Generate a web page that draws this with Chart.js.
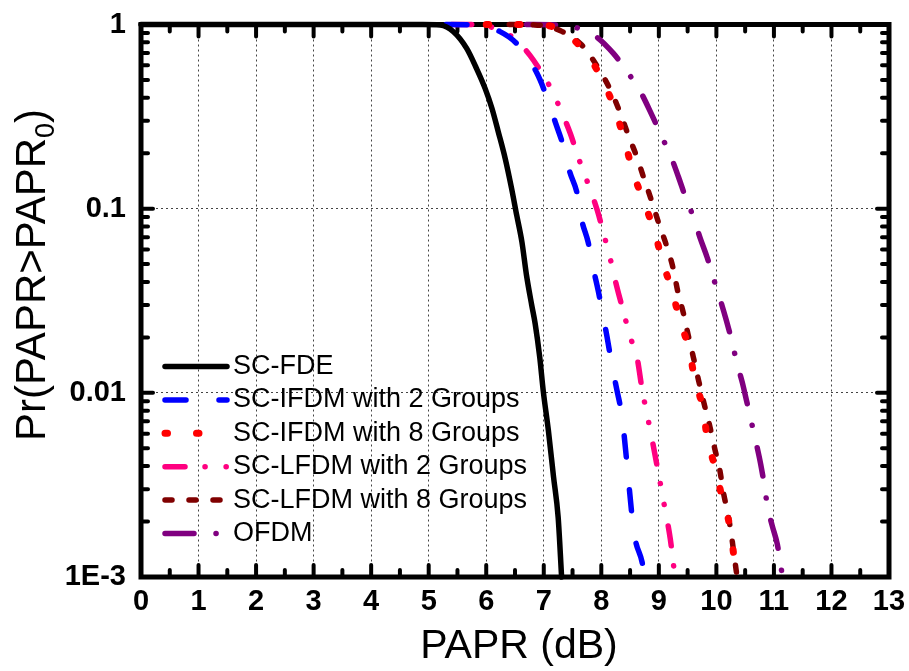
<!DOCTYPE html>
<html>
<head>
<meta charset="utf-8">
<script src="https://cdn.jsdelivr.net/npm/chart.js@4.4.1/dist/chart.umd.min.js"></script>
<style>
  html, body { margin: 0; padding: 0; background: #fff; }
  canvas { display: block; }
</style>
</head>
<body>
<canvas id="paprChart" width="909" height="671"></canvas>
<script>
// tick labels
const xTickLabels = ['0', '1', '2', '3', '4', '5', '6', '7', '8', '9', '10', '11', '12', '13'];
const yTickValues = [0.001, 0.01, 0.1, 1];
const yTickLabels = ['1E-3', '0.01', '0.1', '1'];

const seriesNames = [
  'SC-FDE',
  'SC-IFDM with 2 Groups',
  'SC-IFDM with 8 Groups',
  'SC-LFDM with 2 Groups',
  'SC-LFDM with 8 Groups',
  'OFDM'
];

// PAPR0 (dB) and Pr(PAPR>PAPR0)
const scfdeX = [0, 4.9, 5.2, 5.43, 5.66, 5.83, 5.98, 6.10, 6.21, 6.33, 6.44, 6.53, 6.62, 6.70, 6.79, 6.85, 6.93, 6.99, 7.08, 7.17, 7.25, 7.31];
const scfdeY = [1, 1, 0.994, 0.914, 0.742, 0.578, 0.45, 0.35, 0.261, 0.187, 0.129, 0.092, 0.066, 0.0435, 0.030, 0.0238, 0.0156, 0.0103, 0.00625, 0.00349, 0.00211, 0.001];

const ifdm2X = [5.3, 5.8, 6.24, 6.56, 6.88, 7.04, 7.2, 7.33, 7.45, 7.58, 7.66, 7.77, 7.86, 7.95, 8.04, 8.1, 8.19, 8.27, 8.36, 8.45, 8.53, 8.59, 8.71, 8.75];
const ifdm2Y = [1, 0.995, 0.915, 0.77, 0.545, 0.414, 0.295, 0.224, 0.159, 0.121, 0.0866, 0.066, 0.0475, 0.0354, 0.0253, 0.0201, 0.0138, 0.0104, 0.0074, 0.004, 0.0022, 0.0016, 0.0012, 0.001];

const ifdm8X = [6.0, 6.8, 7.3, 7.78, 8.07, 8.27, 8.42, 8.56, 8.75, 8.93, 9.07, 9.23, 9.37, 9.52, 9.63, 9.77, 9.84, 9.97, 10.1, 10.23, 10.35];
const ifdm8Y = [1, 1, 0.93, 0.668, 0.463, 0.322, 0.224, 0.155, 0.107, 0.074, 0.051, 0.0357, 0.0245, 0.0174, 0.0117, 0.0081, 0.0057, 0.004, 0.0027, 0.0019, 0.001];

const lfdm2X = [5.4, 5.84, 6.12, 6.47, 6.76, 6.99, 7.14, 7.3, 7.46, 7.55, 7.66, 7.78, 7.93, 8.07, 8.16, 8.27, 8.4, 8.49, 8.62, 8.71, 8.85, 8.97, 9.09, 9.2, 9.28];
const lfdm2Y = [1, 1, 0.96, 0.847, 0.68, 0.53, 0.44, 0.34, 0.257, 0.212, 0.168, 0.134, 0.098, 0.0676, 0.0528, 0.0376, 0.0265, 0.0206, 0.0156, 0.0104, 0.0063, 0.004, 0.0025, 0.0016, 0.001];

const lfdm8X = [6.4, 6.85, 7.29, 7.66, 7.95, 8.16, 8.33, 8.47, 8.62, 8.75, 8.88, 9.0, 9.14, 9.25, 9.33, 9.43, 9.51, 9.6, 9.69, 9.78, 9.88, 9.97, 10.06, 10.12, 10.2, 10.26, 10.31, 10.36];
const lfdm8Y = [1, 0.995, 0.925, 0.774, 0.578, 0.44, 0.33, 0.25, 0.19, 0.143, 0.109, 0.083, 0.0621, 0.0472, 0.0354, 0.0268, 0.0206, 0.0156, 0.0117, 0.0089, 0.0067, 0.005, 0.0038, 0.0029, 0.0022, 0.0017, 0.0013, 0.001];

const ofdmX = [6.7, 7.2, 7.52, 7.87, 8.21, 8.47, 8.68, 8.88, 9.04, 9.2, 9.34, 9.46, 9.6, 9.72, 9.84, 9.95, 10.07, 10.17, 10.26, 10.36, 10.45, 10.53, 10.62, 10.7, 10.77, 10.83, 10.89, 10.97, 11.06, 11.11, 11.15];
const ofdmY = [1, 0.995, 0.97, 0.877, 0.697, 0.543, 0.432, 0.322, 0.25, 0.195, 0.149, 0.116, 0.09, 0.069, 0.0543, 0.0418, 0.0318, 0.0249, 0.0196, 0.0144, 0.0114, 0.0089, 0.0067, 0.0052, 0.0041, 0.0032, 0.0024, 0.0019, 0.0015, 0.0012, 0.001];

const FONT = '"Liberation Sans", Arial, sans-serif';

const toPoints = (xs, ys) => xs.map((x, i) => ({ x, y: ys[i] }));

function line(label, xs, ys, color, dash, width) {
  return {
    label,
    data: toPoints(xs, ys),
    borderColor: color,
    backgroundColor: color,
    borderWidth: width || 5,
    borderDash: dash,
    borderCapStyle: 'round',
    borderJoinStyle: 'round',
    pointRadius: 0,
    showLine: true,
    cubicInterpolationMode: 'monotone',
    clip: 4
  };
}

const datasets = [
  line(seriesNames[0], scfdeX, scfdeY, '#000000', [], 5.5),
  line(seriesNames[1], ifdm2X, ifdm2Y, '#0000ff', [21, 33], 5.5),
  line(seriesNames[2], ifdm8X, ifdm8Y, '#ff0000', [2.5, 29], 7),
  line(seriesNames[3], lfdm2X, lfdm2Y, '#ff0080', [20, 20, 0.1, 21, 0.1, 22], 5.5),
  line(seriesNames[4], lfdm8X, lfdm8Y, '#800000', [7, 17], 5.5),
  line(seriesNames[5], ofdmX, ofdmY, '#800080', [29, 22, 0.1, 23], 5.5)
];

// frame + inward ticks on all four sides
const framePlugin = {
  id: 'frame',
  beforeDatasetsDraw(chart) {
    const { ctx, chartArea: a, scales } = chart;
    const xs = scales.x, ys = scales.y;
    ctx.save();
    ctx.strokeStyle = '#000';
    ctx.lineCap = 'round';
    ctx.lineWidth = 4;
    ctx.beginPath();
    for (let v = 0; v <= 13.001; v += 0.5) {
      const px = xs.getPixelForValue(v);
      const len = Number.isInteger(v) ? 12 : 7;
      ctx.moveTo(px, a.bottom); ctx.lineTo(px, a.bottom - len);
      ctx.moveTo(px, a.top); ctx.lineTo(px, a.top + len);
    }
    for (let d = 0.001; d < 1.5; d *= 10) {
      for (let m = 1; m <= 9; m++) {
        const v = d * m;
        if (v > 1.0001) break;
        const py = ys.getPixelForValue(v);
        const len = m === 1 ? 12 : 7;
        ctx.moveTo(a.left, py); ctx.lineTo(a.left + len, py);
        ctx.moveTo(a.right, py); ctx.lineTo(a.right - len, py);
      }
    }
    ctx.stroke();
    ctx.lineWidth = 5;
    ctx.lineCap = 'square';
    ctx.strokeRect(a.left, a.top, a.right - a.left, a.bottom - a.top);
    ctx.restore();
  },
  afterDraw(chart) {
    const { ctx } = chart;
    ctx.save();
    ctx.fillStyle = '#000';

    // y title with subscript 0
    const main = 'Pr(PAPR>PAPR', sub = '0', tail = ')';
    ctx.font = '42px ' + FONT;
    const wMain = ctx.measureText(main).width;
    const wTail = ctx.measureText(tail).width;
    ctx.font = '27px ' + FONT;
    const wSub = ctx.measureText(sub).width;
    const total = wMain + wSub + wTail;
    ctx.translate(45, 275);
    ctx.rotate(-Math.PI / 2);
    ctx.textBaseline = 'alphabetic';
    ctx.textAlign = 'left';
    const x0 = -total / 2;
    ctx.font = '42px ' + FONT;
    ctx.fillText(main, x0, 0);
    ctx.font = '27px ' + FONT;
    ctx.fillText(sub, x0 + wMain, 9);
    ctx.font = '42px ' + FONT;
    ctx.fillText(tail, x0 + wMain + wSub, 0);
    ctx.restore();

    // x title
    ctx.save();
    ctx.fillStyle = '#000';
    ctx.font = '41px ' + FONT;
    ctx.textAlign = 'center';
    ctx.textBaseline = 'alphabetic';
    ctx.fillText('PAPR (dB)', 519, 658);
    ctx.restore();
  },
  afterDatasetsDraw(chart) {
    // legend inside the plot, lower left, no box
    const { ctx, chartArea: a } = chart;
    ctx.save();
    ctx.font = '27px ' + FONT;
    ctx.textBaseline = 'middle';
    ctx.textAlign = 'left';
    chart.data.datasets.forEach((ds, i) => {
      const y = a.top + 342 + i * 33.4;
      ctx.strokeStyle = ds.borderColor;
      ctx.lineWidth = ds.borderWidth;
      ctx.lineCap = 'round';
      ctx.setLineDash(ds.borderDash);
      ctx.beginPath();
      ctx.moveTo(a.left + 24, y);
      ctx.lineTo(a.left + 86, y);
      ctx.stroke();
      ctx.setLineDash([]);
      ctx.fillStyle = '#000';
      ctx.fillText(ds.label, a.left + 92, y);
    });
    ctx.restore();
  }
};

new Chart(document.getElementById('paprChart'), {
  type: 'scatter',
  data: { datasets },
  options: {
    responsive: false,
    animation: false,
    devicePixelRatio: 1,
    layout: { padding: { top: 24.5, right: 20, left: 0, bottom: 0 } },
    plugins: {
      legend: { display: false },
      tooltip: { enabled: false }
    },
    scales: {
      x: {
        type: 'linear',
        min: 0,
        max: 13,
        afterFit: s => { s.height = 94; s.paddingLeft = 0; s.paddingRight = 0; },
        ticks: {
          stepSize: 1,
          padding: 8,
          color: '#000',
          font: { family: FONT, size: 29, weight: 'bold' },
          maxRotation: 0,
          autoSkip: false,
          callback: (v, i) => xTickLabels[i]
        },
        grid: { color: '#444', lineWidth: 1, drawTicks: false },
        border: { display: false, dash: [2, 3] }
      },
      y: {
        type: 'logarithmic',
        min: 0.001,
        max: 1,
        afterFit: s => { s.width = 141; s.paddingTop = 0; s.paddingBottom = 0; },
        afterBuildTicks: s => { s.ticks = yTickValues.map(v => ({ value: v, major: true })); },
        ticks: {
          padding: 15,
          color: '#000',
          font: { family: FONT, size: 29, weight: 'bold' },
          autoSkip: false,
          callback: v => yTickLabels[yTickValues.indexOf(v)]
        },
        grid: { color: '#444', lineWidth: 1, drawTicks: false },
        border: { display: false, dash: [2, 3] }
      }
    }
  },
  plugins: [framePlugin]
});
</script>
</body>
</html>
